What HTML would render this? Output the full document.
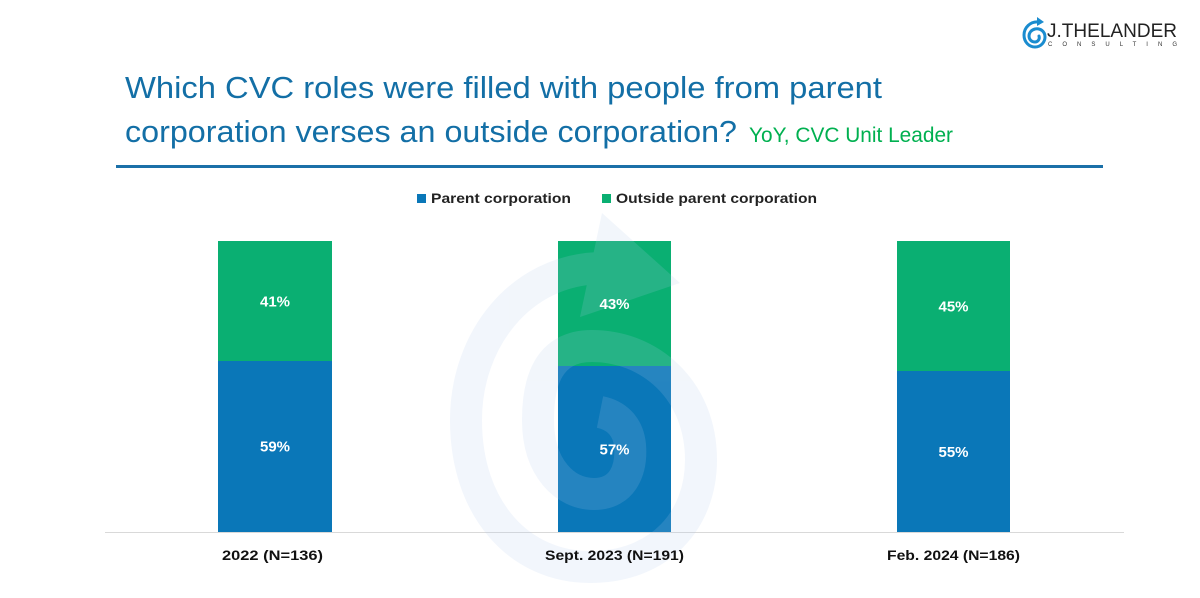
<!DOCTYPE html>
<html>
<head>
<meta charset="utf-8">
<style>
html,body{margin:0;padding:0;background:#ffffff;}
svg{display:block;}
</style>
</head>
<body>
<svg width="1200" height="598" viewBox="0 0 1200 598" xmlns="http://www.w3.org/2000/svg">
  <rect x="0" y="0" width="1200" height="598" fill="#ffffff"/>

  <!-- Logo -->
  <g fill="none" stroke="#1a8ccf" stroke-width="3" stroke-linecap="round">
    <path d="M1039,22 C1030,21 1024,28 1024,35 C1024,42 1029,47 1035,47 C1041,47 1045,42 1045,37 C1045,31 1040,28 1035,29 C1031,30 1029,33 1029,36 C1029,40 1032,42 1035,42 C1038,42 1040,39 1039,36"/>
  </g>
  <polygon points="1037,17 1044,22 1037,26" fill="#1a8ccf"/>
  <text x="1047" y="37" font-family="Liberation Sans, sans-serif" font-size="19" fill="#222" textLength="130" lengthAdjust="spacingAndGlyphs">J.THELANDER</text>
  <text x="1048" y="46" font-family="Liberation Sans, sans-serif" font-size="6" fill="#333" textLength="129" lengthAdjust="spacing">CONSULTING</text>

  <!-- Title -->
  <text x="125" y="98" font-family="Liberation Sans, sans-serif" font-size="31" fill="#136fa6" textLength="757" lengthAdjust="spacingAndGlyphs">Which CVC roles were filled with people from parent</text>
  <text x="125" y="142" font-family="Liberation Sans, sans-serif" font-size="31" fill="#136fa6" textLength="612" lengthAdjust="spacingAndGlyphs">corporation verses an outside corporation?</text>
  <text x="749" y="142" font-family="Liberation Sans, sans-serif" font-size="21" fill="#00b050" textLength="204" lengthAdjust="spacingAndGlyphs">YoY, CVC Unit Leader</text>
  <rect x="116" y="165" width="987" height="3" fill="#1b70a8"/>

  <!-- Legend -->
  <rect x="417" y="194" width="9" height="9" fill="#0a77b8"/>
  <text x="431" y="203" font-family="Liberation Sans, sans-serif" font-weight="bold" font-size="14" fill="#222" textLength="140" lengthAdjust="spacingAndGlyphs">Parent corporation</text>
  <rect x="602" y="194" width="9" height="9" fill="#0aaf72"/>
  <text x="616" y="203" font-family="Liberation Sans, sans-serif" font-weight="bold" font-size="14" fill="#222" textLength="201" lengthAdjust="spacingAndGlyphs">Outside parent corporation</text>

  <!-- Axis baseline -->
  <rect x="105" y="532" width="1019" height="1" fill="#d9d9d9"/>

  <!-- Bars -->
  <rect x="218" y="241" width="114" height="120" fill="#0aaf72"/>
  <rect x="218" y="361" width="114" height="171" fill="#0a77b8"/>
  <rect x="558" y="241" width="113" height="125" fill="#0aaf72"/>
  <rect x="558" y="366" width="113" height="166" fill="#0a77b8"/>
  <rect x="897" y="241" width="113" height="130" fill="#0aaf72"/>
  <rect x="897" y="371" width="113" height="161" fill="#0a77b8"/>

  <!-- Watermark spiral -->
  <g opacity="0.165">
    <path d="M600,268 C520,270 466,340 466,420 C466,510 520,567 590,567 C660,567 701,520 701,460 C701,390 650,346 592,346 C548,346 538,382 538,420 C538,468 565,494 594,494 C624,494 632,468 630,445 C628,425 615,415 600,412" fill="none" stroke="#b2cbed" stroke-width="32"/>
    <polygon points="602,213 680,283 580,317" fill="#b2cbed"/>
  </g>

  <!-- Data labels -->
  <g font-family="Liberation Sans, sans-serif" font-weight="bold" font-size="15" fill="#ffffff" text-anchor="middle">
    <text x="275" y="306.5">41%</text>
    <text x="275" y="451.5">59%</text>
    <text x="614.5" y="309">43%</text>
    <text x="614.5" y="454.5">57%</text>
    <text x="953.5" y="311.5">45%</text>
    <text x="953.5" y="457">55%</text>
  </g>

  <!-- Category labels -->
  <g font-family="Liberation Sans, sans-serif" font-weight="bold" font-size="14" fill="#111">
    <text x="222" y="560" textLength="101" lengthAdjust="spacingAndGlyphs">2022 (N=136)</text>
    <text x="545" y="560" textLength="139" lengthAdjust="spacingAndGlyphs">Sept. 2023 (N=191)</text>
    <text x="887" y="560" textLength="133" lengthAdjust="spacingAndGlyphs">Feb. 2024 (N=186)</text>
  </g>
</svg>
</body>
</html>
